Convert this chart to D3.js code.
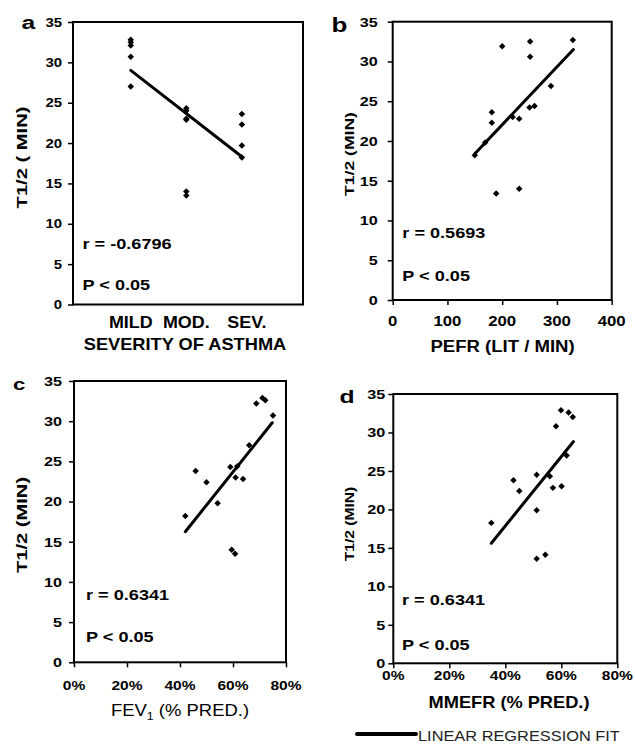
<!DOCTYPE html>
<html>
<head>
<meta charset="utf-8">
<script src="https://cdn.jsdelivr.net/npm/d3@7/dist/d3.min.js"></script>
<style>
  html, body { margin: 0; padding: 0; background: #fff; }
  svg { display: block; }
  text { font-family: "Liberation Sans", Arial, Helvetica, sans-serif; fill: #000; }
</style>
</head>
<body>
<svg id="chart" width="635" height="744"></svg>
<script>
// ---------------- DATA ----------------
const yTicks = [0, 5, 10, 15, 20, 25, 30, 35];

// Panel a: severity of asthma
const severityLevels = ["MILD", "MOD.", "SEV."];
const severityGroup = ["MILD", "MILD", "MILD", "MILD", "MILD",
  "MOD.", "MOD.", "MOD.", "MOD.", "MOD.", "MOD.",
  "SEV.", "SEV.", "SEV.", "SEV."];
const t12Severity = [32.8, 32.5, 32.1, 30.7, 27.0,
  24.3, 24.0, 23.0, 22.9, 14.0, 13.5,
  23.6, 22.3, 19.7, 18.2];
const fitSeverityX = [1, 3];
const fitSeverityY = [29.0, 18.3];

// Panel b: PEFR
const pefrTicks = [0, 100, 200, 300, 400];
const pefr = [329, 251, 200, 251, 289, 250, 259, 181, 181, 219, 231, 169, 150, 189, 231];
const t12Pefr = [32.7, 32.5, 31.9, 30.6, 26.9, 24.2, 24.4, 23.6, 22.3, 23.0, 22.8, 19.8, 18.2, 13.4, 14.0];
const fitPefrX = [150, 330];
const fitPefrY = [18.4, 31.5];

// Panel c: FEV1 (% predicted)
const pctTicks = [0, 0.2, 0.4, 0.6, 0.8];
const fev1 = [0.711, 0.722, 0.688, 0.751, 0.661, 0.590, 0.616, 0.459, 0.500, 0.610, 0.638, 0.542, 0.420, 0.595, 0.608];
const t12Fev1 = [32.9, 32.6, 32.2, 30.7, 27.0, 24.3, 24.4, 23.8, 22.4, 23.0, 22.8, 19.8, 18.2, 14.0, 13.5];
const fitFev1X = [0.42, 0.748];
const fitFev1Y = [16.25, 29.8];

// Panel d: MMEFR (% predicted)
const mmefr = [0.599, 0.626, 0.641, 0.581, 0.619, 0.512, 0.559, 0.429, 0.450, 0.570, 0.601, 0.512, 0.350, 0.512, 0.543];
const t12Mmefr = [32.9, 32.6, 32.0, 30.8, 27.0, 24.5, 24.3, 23.8, 22.4, 22.8, 23.0, 19.9, 18.25, 13.6, 14.1];
const fitMmefrX = [0.35, 0.643];
const fitMmefrY = [15.6, 28.8];

// ---------------- DRAWING ----------------
const svg = d3.select("#chart");

function txt(g, x, y, str, o) {
  o = o || {};
  const t = g.append("text")
    .attr("transform", `translate(${x},${y}) rotate(${o.rot || 0}) scale(${o.sx || 1},1)`)
    .attr("text-anchor", o.anchor || "start")
    .style("font-size", (o.size || 13) + "px")
    .style("font-weight", o.weight || "bold")
    .style("letter-spacing", (o.ls || 0) + "px");
  if (o.fill) t.style("fill", o.fill);
  t.text(str);
  return t;
}

function panel(cfg) {
  const g = svg.append("g");
  const x = cfg.x, y = cfg.y;
  const [x0, x1] = x.range();
  const [y0, y1] = y.range(); // y0 bottom, y1 top

  // y axis ticks + labels
  const yAxis = d3.axisLeft(y).tickValues(yTicks).tickSize(5).tickFormat("");
  const ya = g.append("g").attr("transform", `translate(${x0},0)`).call(yAxis);
  ya.select(".domain").remove();
  ya.selectAll(".tick line").attr("stroke", "#000").attr("stroke-width", 1.5);
  yTicks.forEach(v => {
    txt(g, x0 - cfg.yLabGap, y(v) + cfg.yLabSize * 0.36, String(v),
      { anchor: "end", size: cfg.yLabSize, sx: cfg.yLabSx });
  });

  // x axis ticks + labels
  if (cfg.xTicks) {
    const xAxis = d3.axisBottom(x).tickValues(cfg.xTicks).tickSize(5).tickFormat("");
    const xa = g.append("g").attr("transform", `translate(0,${y0})`).call(xAxis);
    xa.select(".domain").remove();
    xa.selectAll(".tick line").attr("stroke", "#000").attr("stroke-width", 1.5);
    cfg.xTicks.forEach(v => {
      txt(g, x(v), cfg.xLabY, cfg.xFmt(v), { anchor: "middle", size: cfg.xLabSize, sx: cfg.xLabSx });
    });
  }

  // frame
  g.append("rect")
    .attr("x", x0).attr("y", y1)
    .attr("width", x1 - x0).attr("height", y0 - y1)
    .attr("fill", "none").attr("stroke", "#000").attr("stroke-width", 2);

  // regression line
  g.append("line")
    .attr("x1", x(cfg.fitX[0])).attr("y1", y(cfg.fitY[0]))
    .attr("x2", x(cfg.fitX[1])).attr("y2", y(cfg.fitY[1]))
    .attr("stroke", "#000").attr("stroke-width", 3).attr("stroke-linecap", "round");

  // points (diamonds)
  const sym = d3.symbol().type(d3.symbolSquare).size(21);
  g.selectAll("path.pt").data(cfg.xs.map((d, i) => [d, cfg.ys[i]]))
    .enter().append("path").attr("class", "pt")
    .attr("d", sym)
    .attr("transform", d => `translate(${x(d[0])},${y(d[1])}) rotate(45)`)
    .attr("fill", "#000");

  // annotations
  txt(g, cfg.annX, cfg.rY, cfg.rText, { size: 14.5, sx: 1.25 });
  txt(g, cfg.annX, cfg.pY, "P < 0.05", { size: 14.5, sx: 1.25 });

  // panel letter
  txt(g, cfg.letter[1], cfg.letter[2], cfg.letter[0], { size: cfg.letter[3], sx: 1.3 });

  // y title
  txt(g, cfg.yTitle[1], cfg.yTitle[2], cfg.yTitle[0],
    { anchor: "middle", rot: -90, size: cfg.yTitle[3], sx: cfg.yTitle[4] });
  return g;
}

// ---- Panel a ----
const xA = d3.scaleLinear().domain([-0.04, 4.1]).range([73, 303]);
const yA = d3.scaleLinear().domain([0, 35]).range([304.5, 22]);
const gA = panel({
  x: xA, y: yA, yLabGap: 11, yLabSize: 13, yLabSx: 1.15,
  xs: severityGroup.map(s => severityLevels.indexOf(s) + 1), ys: t12Severity,
  fitX: fitSeverityX, fitY: fitSeverityY,
  annX: 82.5, rY: 249, pY: 290, rText: "r = -0.6796",
  letter: ["a", 21.5, 28.5, 19], yTitle: ["T1/2 ( MIN)", 27, 157.5, 15.5, 1.3]
});
severityLevels.forEach((s, i) => {
  txt(gA, xA(i + 1) + (i === 2 ? 5 : 0), 327.5, s, { anchor: "middle", size: 16, sx: 1.12 });
});
txt(gA, 185, 350, "SEVERITY OF ASTHMA", { anchor: "middle", size: 16, sx: 1.14 });

// ---- Panel b ----
const xB = d3.scaleLinear().domain([0, 400]).range([392.7, 611.7]);
const yB = d3.scaleLinear().domain([0, 35]).range([300, 21.7]);
const gB = panel({
  x: xB, y: yB, yLabGap: 15, yLabSize: 13.5, yLabSx: 1.2,
  xTicks: pefrTicks, xFmt: d => String(d), xLabY: 325.5, xLabSize: 14, xLabSx: 1.2,
  xs: pefr, ys: t12Pefr, fitX: fitPefrX, fitY: fitPefrY,
  annX: 402.3, rY: 238, pY: 281, rText: "r = 0.5693",
  letter: ["b", 331.5, 31.5, 20], yTitle: ["T1/2 (MIN)", 354, 154, 13.5, 1.3]
});
txt(gB, 502.5, 352, "PEFR (LIT / MIN)", { anchor: "middle", size: 16, sx: 1.16 });

// ---- Panel c ----
const pctFmt = d => Math.round(d * 100) + "%";
const xC = d3.scaleLinear().domain([0, 0.8]).range([74, 286]);
const yC = d3.scaleLinear().domain([0, 35]).range([662.3, 381]);
const gC = panel({
  x: xC, y: yC, yLabGap: 12, yLabSize: 13.5, yLabSx: 1.2,
  xTicks: pctTicks, xFmt: pctFmt, xLabY: 690, xLabSize: 13.5, xLabSx: 1.15,
  xs: fev1, ys: t12Fev1, fitX: fitFev1X, fitY: fitFev1Y,
  annX: 86, rY: 600, pY: 641.7, rText: "r = 0.6341",
  letter: ["c", 13, 390, 17], yTitle: ["T1/2  (MIN)", 27, 525, 15.5, 1.3]
});
{
  const t = txt(gC, 180, 716, "", { anchor: "middle", size: 16.5, sx: 1.12, weight: "normal" });
  t.append("tspan").text("FEV");
  t.append("tspan").attr("dy", 4).style("font-size", "11px").text("1");
  t.append("tspan").attr("dy", -4).text(" (% PRED.)");
}

// ---- Panel d ----
const xD = d3.scaleLinear().domain([0, 0.8]).range([393.3, 617.3]);
const yD = d3.scaleLinear().domain([0, 35]).range([663.3, 394]);
const gD = panel({
  x: xD, y: yD, yLabGap: 8, yLabSize: 13.5, yLabSx: 1.2,
  xTicks: pctTicks, xFmt: pctFmt, xLabY: 680, xLabSize: 13.5, xLabSx: 1.15,
  xs: mmefr, ys: t12Mmefr, fitX: fitMmefrX, fitY: fitMmefrY,
  annX: 402, rY: 605, pY: 650, rText: "r = 0.6341",
  letter: ["d", 339.5, 403, 19], yTitle: ["T1/2 (MIN)", 354, 524, 13, 1.2]
});
txt(gD, 509, 708, "MMEFR (% PRED.)", { anchor: "middle", size: 16, sx: 1.14 });

// ---- Legend ----
const leg = svg.append("g");
leg.append("line").attr("x1", 357).attr("y1", 734).attr("x2", 416).attr("y2", 734)
  .attr("stroke", "#000").attr("stroke-width", 4).attr("stroke-linecap", "round");
txt(leg, 418, 741, "LINEAR REGRESSION FIT", { size: 14, sx: 1.17, weight: "normal", fill: "#222" });
</script>
</body>
</html>
